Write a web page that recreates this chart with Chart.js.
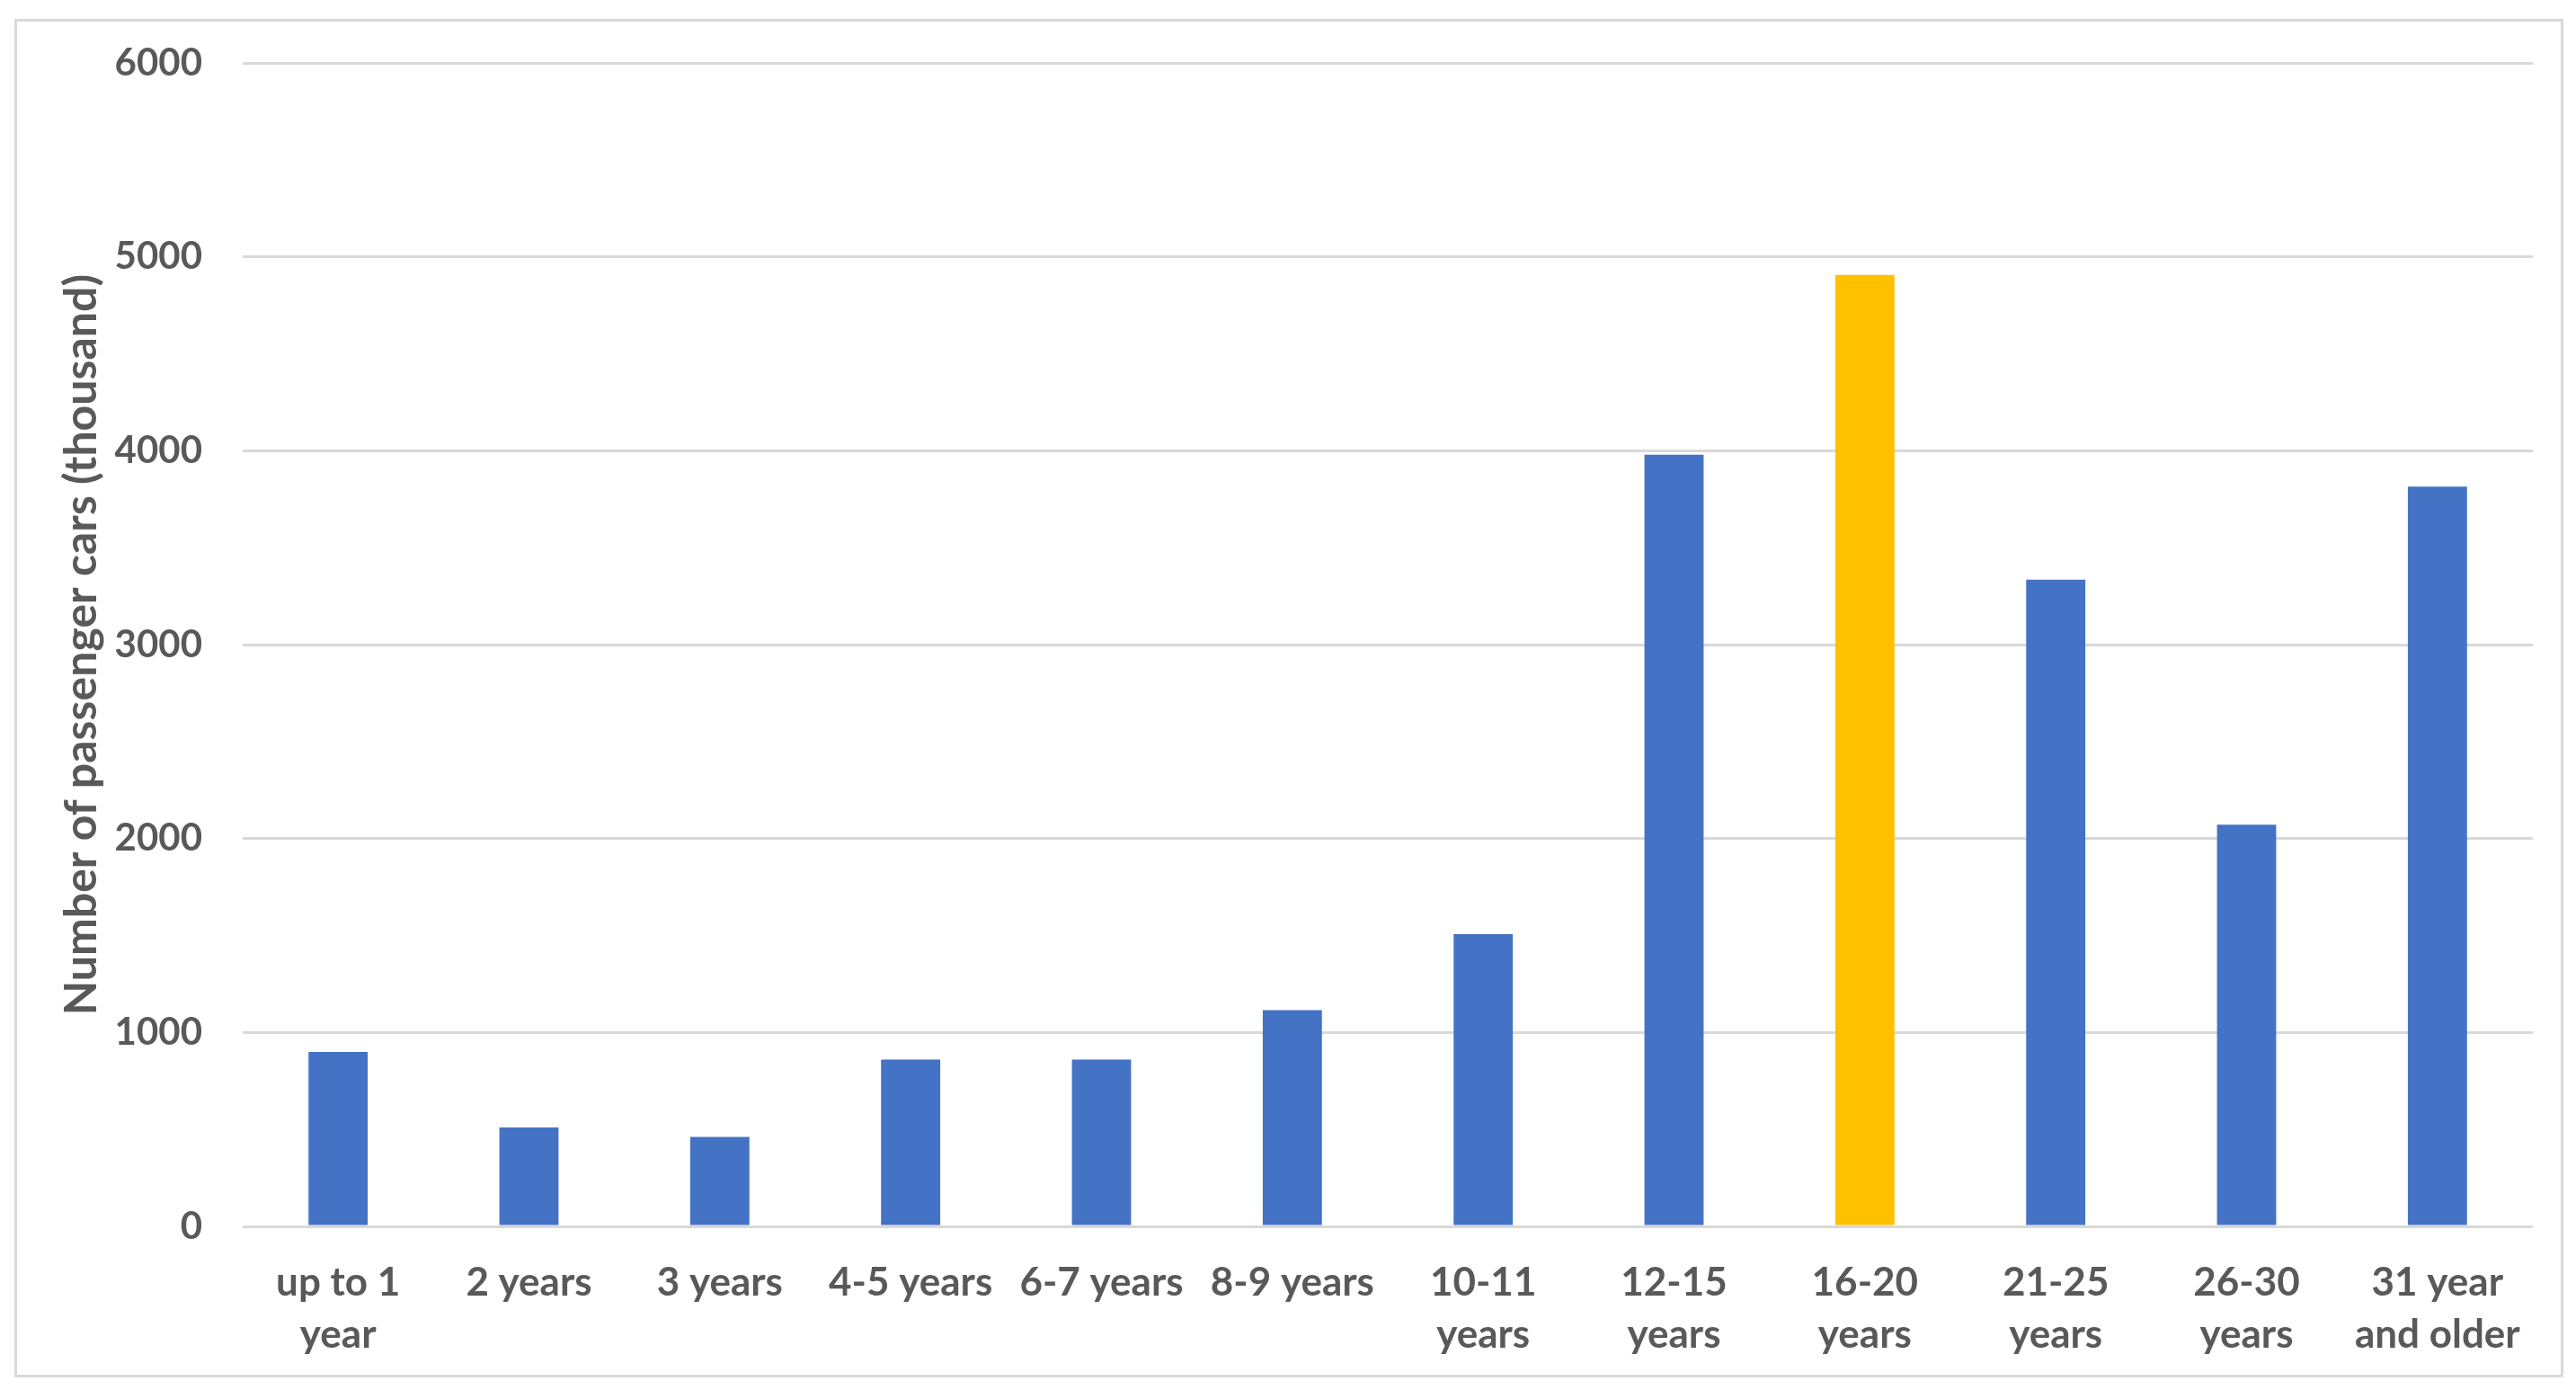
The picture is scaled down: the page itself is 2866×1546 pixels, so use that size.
<!DOCTYPE html>
<html>
<head>
<meta charset="utf-8">
<script src="https://cdn.jsdelivr.net/npm/chart.js@4"></script>
<style>
  html, body { margin: 0; padding: 0; background: #ffffff; }
  #wrap { position: relative; width: 2866px; height: 1546px; }
  #frame { position: absolute; left: 16px; top: 21px; width: 2830px; height: 1505px; border: 3px solid #d9d9d9; pointer-events: none; }
  canvas { position: absolute; left: 0; top: 0; }
</style>
</head>
<body>
<div id="wrap">
  <canvas id="c" width="2866" height="1546"></canvas>
  <div id="frame"></div>
</div>
<script>
const categories = [
  ["up to 1", "year"], "2 years", "3 years", "4-5 years", "6-7 years", "8-9 years",
  ["10-11", "years"], ["12-15", "years"], ["16-20", "years"], ["21-25", "years"],
  ["26-30", "years"], ["31 year", "and older"]
];
const passengerCars = [900, 510, 462, 860, 860, 1115, 1507, 3980, 4908, 3335, 2072, 3815];
const highlightIndex = 8;
const yTicks = [0, 1000, 2000, 3000, 4000, 5000, 6000];
const yTitle = "Number of passenger cars (thousand)";

const BLUE = "#4472C4";
const GOLD = "#FFC000";
const TEXT = "#595959";
const GRID = "#d9d9d9";
const FONT = "Lato, 'Open Sans', sans-serif";

const barColors = passengerCars.map((v, i) => i === highlightIndex ? GOLD : BLUE);

new Chart(document.getElementById("c"), {
  type: "bar",
  data: {
    labels: categories,
    datasets: [{
      data: passengerCars,
      backgroundColor: barColors,
      borderWidth: 0,
      barPercentage: 0.31,
      categoryPercentage: 1.0
    }]
  },
  options: {
    responsive: false,
    animation: false,
    events: [],
    layout: { padding: { left: 20, right: 48, top: 64, bottom: 16 } },
    plugins: { legend: { display: false }, tooltip: { enabled: false }, title: { display: false } },
    scales: {
      x: {
        grid: { display: false, drawTicks: false },
        border: { display: false },
        ticks: {
          color: TEXT,
          font: { family: FONT, size: 44, weight: "bold", lineHeight: 1.32 },
          padding: 34,
          maxRotation: 0,
          autoSkip: false
        },
        afterFit(scale) { scale.height = 166; }
      },
      y: {
        min: 0,
        max: 6000,
        afterBuildTicks(scale) { scale.ticks = yTicks.map(v => ({ value: v })); },
        grid: { color: GRID, lineWidth: 3, drawTicks: false },
        border: { display: false },
        ticks: {
          color: TEXT,
          font: { family: FONT, size: 42, weight: "bold" },
          padding: 45,
          callback: (v) => String(v)
        },
        title: {
          display: true,
          text: yTitle,
          color: TEXT,
          font: { family: FONT, size: 50, weight: "bold" },
          padding: { top: 41, bottom: 0 }
        },
        afterFit(scale) { scale.width = 250; }
      }
    }
  }
});
</script>
</body>
</html>
